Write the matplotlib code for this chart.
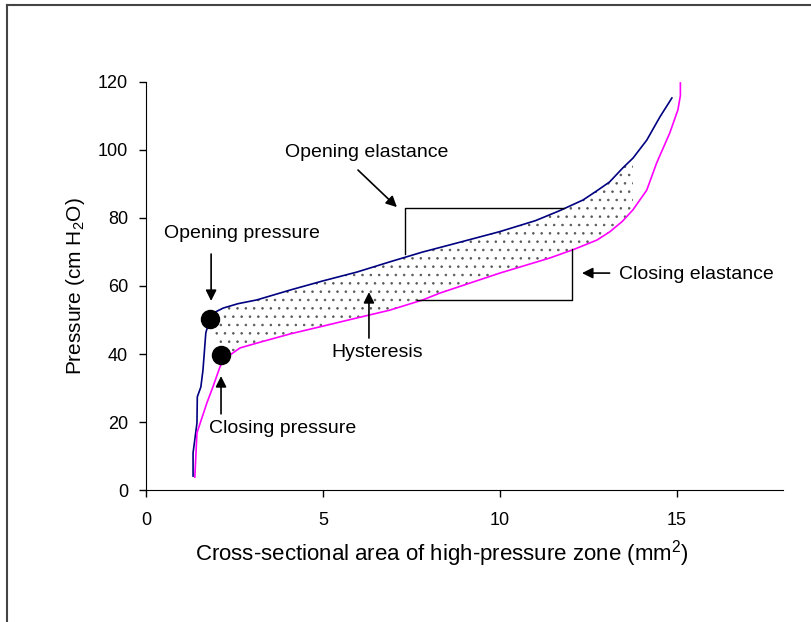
import numpy as np
import matplotlib.pyplot as plt
from matplotlib.lines import Line2D

plt.rcParams['font.family'] = ['Liberation Sans', 'DejaVu Sans']
plt.rcParams['mathtext.fontset'] = 'custom'
plt.rcParams['mathtext.rm'] = 'Liberation Sans'
plt.rcParams['hatch.linewidth'] = 0.6

# opening curve (navy)
open_x = [1.33, 1.33, 1.44, 1.45, 1.55, 1.61, 1.69, 1.81, 1.95, 2.18, 2.6, 3.13,
          4.07, 5.0, 5.96, 6.89, 7.82, 8.59, 10.0, 11.0, 11.7, 12.35, 12.74,
          13.1, 13.47, 13.76, 14.15, 14.52, 14.86]
open_y = [4.1, 10.9, 19.7, 27.4, 30.3, 35.3, 46.2, 50.6, 52.3, 53.5, 54.8, 55.9,
          58.8, 61.5, 64.1, 67.1, 70.0, 72.1, 76.0, 79.2, 82.2, 85.3, 88.0,
          90.6, 94.7, 97.6, 102.9, 109.7, 115.3]

# closing curve (magenta)
close_x = [1.38, 1.44, 1.72, 1.89, 2.09, 2.2, 2.37, 2.66, 3.13, 4.07, 5.0, 5.96,
           6.89, 7.82, 8.3, 10.0, 11.4, 12.1, 12.74, 13.1, 13.46, 13.76, 14.15,
           14.43, 14.8, 15.03, 15.1, 15.1]
close_y = [3.8, 16.8, 25.6, 30.3, 36.2, 38.5, 39.7, 41.8, 43.2, 45.9, 48.2, 50.6,
           52.9, 55.9, 57.9, 63.8, 68.2, 70.8, 73.5, 75.9, 79.0, 82.4, 88.2,
           96.2, 105.0, 111.8, 116.0, 119.7]

# opening / closing pressure points
pt_x = [1.81, 2.12]
pt_y = [50.3, 39.7]

# elastance boxes
open_box_x = [7.32, 7.32, 11.8]
open_box_y = [69.4, 83.0, 83.0]
close_box_x = [7.65, 12.03, 12.03]
close_box_y = [55.9, 55.9, 71.0]

fig = plt.figure(figsize=(8.12, 6.22), dpi=100)
ax = fig.add_axes([0.1798, 0.2122, 0.7845, 0.656])

# hysteresis area between the curves
ox = np.array(open_x)
oy = np.array(open_y)
cx = np.array(close_x)
cy = np.array(close_y)
m1 = (ox >= 1.81) & (ox <= 13.76)
m2 = (cx >= 2.12) & (cx <= 13.76)
poly_x = np.concatenate([ox[m1], cx[m2][::-1]])
poly_y = np.concatenate([oy[m1], cy[m2][::-1]])
ax.fill(poly_x, poly_y, facecolor='none', edgecolor='0.35', linewidth=0,
        hatch='..')

ax.plot(open_x, open_y, color='#000080', lw=1.2)
ax.plot(close_x, close_y, color='#ff00ff', lw=1.2)
ax.plot(pt_x, pt_y, 'o', color='black', markersize=13)

ax.plot(open_box_x, open_box_y, color='black', lw=1)
ax.plot(close_box_x, close_box_y, color='black', lw=1)

arrow = dict(arrowstyle='-|>', color='black', lw=1.2, mutation_scale=16,
             shrinkA=0, shrinkB=0)
fs = 14
ax.annotate('', xy=(7.09, 83.2), xytext=(5.99, 94.1), arrowprops=arrow)
ax.text(6.24, 99.4, 'Opening elastance', fontsize=fs, ha='center', va='center')
ax.annotate('', xy=(1.84, 55.6), xytext=(1.84, 69.4), arrowprops=arrow)
ax.text(2.71, 75.3, 'Opening pressure', fontsize=fs, ha='center', va='center')
ax.annotate('', xy=(2.12, 33.5), xytext=(2.12, 22.4), arrowprops=arrow)
ax.text(3.87, 18.2, 'Closing pressure', fontsize=fs, ha='center', va='center')
ax.annotate('', xy=(6.3, 58.2), xytext=(6.3, 44.7), arrowprops=arrow)
ax.text(6.53, 40.3, 'Hysteresis', fontsize=fs, ha='center', va='center')
ax.annotate('', xy=(12.32, 63.8), xytext=(13.1, 63.8), arrowprops=arrow)
ax.text(13.36, 63.3, 'Closing elastance', fontsize=fs, ha='left', va='center')

ax.set_xlim(0, 18)
ax.set_ylim(0, 120)
ax.set_xticks([0, 5, 10, 15])
ax.set_yticks(range(0, 121, 20))
ax.tick_params(labelsize=13, length=5, width=1, direction='out')
ax.tick_params(axis='x', pad=11)
ax.tick_params(axis='y', pad=8)
ax.spines['top'].set_visible(False)
ax.spines['right'].set_visible(False)
ax.set_xlabel('Cross-sectional area of high-pressure zone (mm$^2$)', fontsize=16)
ax.xaxis.set_label_coords(0.4647, -0.117)
ax.set_ylabel('Pressure (cm H$_2$O)', fontsize=15, labelpad=8)

# frame around the picture (top and left only)
fig.add_artist(Line2D([0.009, 0.009], [0, 0.992], color='#444444', lw=1.5))
fig.add_artist(Line2D([0.009, 1.0], [0.992, 0.992], color='#444444', lw=1.5))

fig.savefig('out.png', dpi=100)
